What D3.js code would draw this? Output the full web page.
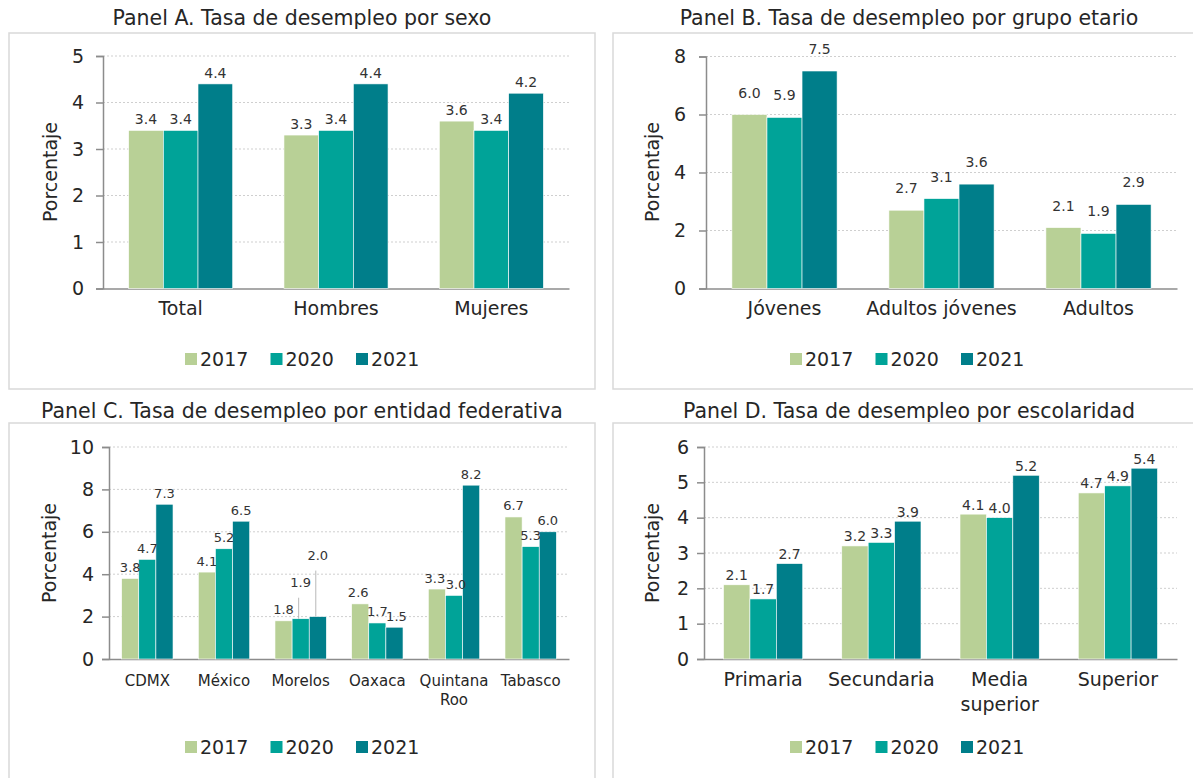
<!DOCTYPE html>
<html>
<head>
<meta charset="utf-8">
<script src="https://cdn.jsdelivr.net/npm/d3@7"></script>
<style>
  body { margin: 0; background: #fff; }
  svg { display: block; font-family: "DejaVu Sans", sans-serif; }
</style>
</head>
<body>
<svg id="chart" width="1193" height="778"></svg>
<script>
// series
var years = ["2017", "2020", "2021"];
var yearColors = ["#b8d096", "#00a398", "#007e8a"];

// Panel A
var sexoCats = ["Total", "Hombres", "Mujeres"];
var sexo2017 = [3.4, 3.3, 3.6];
var sexo2020 = [3.4, 3.4, 3.4];
var sexo2021 = [4.4, 4.4, 4.2];
var sexoTicks = [0, 1, 2, 3, 4, 5];

// Panel B
var edadCats = ["Jóvenes", "Adultos jóvenes", "Adultos"];
var edad2017 = [6.0, 2.7, 2.1];
var edad2020 = [5.9, 3.1, 1.9];
var edad2021 = [7.5, 3.6, 2.9];
var edadTicks = [0, 2, 4, 6, 8];

// Panel C
var entidadCats = ["CDMX", "México", "Morelos", "Oaxaca", "Quintana Roo", "Tabasco"];
var entidad2017 = [3.8, 4.1, 1.8, 2.6, 3.3, 6.7];
var entidad2020 = [4.7, 5.2, 1.9, 1.7, 3.0, 5.3];
var entidad2021 = [7.3, 6.5, 2.0, 1.5, 8.2, 6.0];
var entidadTicks = [0, 2, 4, 6, 8, 10];

// Panel D
var escolarCats = ["Primaria", "Secundaria", "Media superior", "Superior"];
var escolar2017 = [2.1, 3.2, 4.1, 4.7];
var escolar2020 = [1.7, 3.3, 4.0, 4.9];
var escolar2021 = [2.7, 3.9, 5.2, 5.4];
var escolarTicks = [0, 1, 2, 3, 4, 5, 6];

var svg = d3.select("#chart");
var fmt = d3.format(".1f");

function panel(o) {
  var g = svg.append("g");

  g.append("rect")
    .attr("x", o.box[0]).attr("y", o.box[1])
    .attr("width", o.box[2]).attr("height", o.box[3])
    .attr("fill", "#fff").attr("stroke", "#d9d9d9").attr("stroke-width", 1.5);

  g.append("text")
    .attr("x", o.titleX).attr("y", o.titleY)
    .attr("text-anchor", "middle").attr("font-size", 20.5).attr("fill", "#262626")
    .text(o.title);

  var x = d3.scaleBand().domain(o.cats).range([o.x0, o.x1])
    .paddingInner(0.33).paddingOuter(0.165);
  var xs = d3.scaleBand().domain(years).range([0, x.bandwidth()]);
  var y = d3.scaleLinear().domain([0, d3.max(o.ticks)]).range([o.y0, o.y1]);

  // grid
  g.selectAll(".grid").data(o.ticks.slice(1)).enter().append("line")
    .attr("x1", o.x0).attr("x2", o.x1)
    .attr("y1", function(d) { return y(d); }).attr("y2", function(d) { return y(d); })
    .attr("stroke", "#cfcfcf").attr("stroke-dasharray", "2,2");

  // y axis
  var ya = g.append("g").attr("transform", "translate(" + o.x0 + ",0)")
    .call(d3.axisLeft(y).tickValues(o.ticks).tickFormat(d3.format("d"))
      .tickSize(7).tickPadding(o.tickPad));
  ya.select(".domain").attr("stroke", "#8c8c8c").attr("stroke-width", 1.5);
  ya.selectAll(".tick line").attr("stroke", "#8c8c8c").attr("stroke-width", 1.5);
  ya.selectAll(".tick text").attr("font-size", 19).attr("fill", "#262626")
    .attr("font-family", "DejaVu Sans");

  // x axis
  var xa = g.append("g").attr("transform", "translate(0," + o.y0 + ")")
    .call(d3.axisBottom(x).tickSize(0).tickPadding(0));
  xa.select(".domain").attr("stroke", "#8c8c8c").attr("stroke-width", 1.5);
  xa.selectAll(".tick text").remove();

  // category labels
  o.cats.forEach(function(c) {
    var lines = o.wrap && o.wrap.indexOf(c) >= 0 ? c.split(" ") : [c];
    var t = g.append("text")
      .attr("text-anchor", "middle").attr("font-size", o.catSize).attr("fill", "#262626")
      .attr("y", o.catY);
    lines.forEach(function(l, i) {
      t.append("tspan").attr("x", x(c) + x.bandwidth() / 2)
        .attr("dy", i === 0 ? 0 : o.catLine).text(l);
    });
  });

  // bars
  var rows = [];
  o.cats.forEach(function(c, i) {
    o.series.forEach(function(s, j) {
      rows.push({ cat: c, year: years[j], value: s[i], j: j });
    });
  });

  g.selectAll(".bar").data(rows).enter().append("rect")
    .attr("x", function(d) { return x(d.cat) + xs(d.year); })
    .attr("width", xs.bandwidth())
    .attr("y", function(d) { return y(d.value); })
    .attr("height", function(d) { return o.y0 - y(d.value); })
    .attr("fill", function(d) { return yearColors[d.j]; })
    .attr("stroke", "#fff").attr("stroke-width", 0.6);

  // labels
  function lift(d) { return (o.lift && o.lift[d.cat + d.year]) || 0; }
  function shift(d) { return (o.shift && o.shift[d.cat + d.year]) || 0; }

  g.selectAll(".lbl").data(rows).enter().append("text")
    .attr("x", function(d) { return x(d.cat) + xs(d.year) + xs.bandwidth() / 2 + shift(d); })
    .attr("y", function(d) { return y(d.value) - o.labelGap - lift(d); })
    .attr("text-anchor", "middle").attr("font-size", o.labelSize).attr("fill", "#333")
    .text(function(d) { return fmt(d.value); });

  // leader lines for moved labels
  rows.filter(function(d) { return lift(d) > 0; }).forEach(function(d) {
    var cx = x(d.cat) + xs(d.year) + xs.bandwidth() / 2 - 2;
    g.append("line")
      .attr("x1", cx).attr("x2", cx)
      .attr("y1", y(d.value)).attr("y2", y(d.value) - lift(d) + 4)
      .attr("stroke", "#a6a6a6").attr("stroke-width", 0.8);
  });

  // y title
  g.append("text")
    .attr("transform", "translate(" + o.ytX + "," + o.ytY + ") rotate(-90)")
    .attr("text-anchor", "middle").attr("dy", "0.35em")
    .attr("font-size", 19).attr("fill", "#262626")
    .text("Porcentaje");

  // legend
  years.forEach(function(yr, j) {
    var lx = o.legX + j * 85.5;
    g.append("rect").attr("x", lx).attr("y", o.legY - 6)
      .attr("width", 12).attr("height", 12).attr("fill", yearColors[j]);
    g.append("text").attr("x", lx + 15).attr("y", o.legY).attr("dy", "0.36em")
      .attr("font-size", 19).attr("fill", "#262626").text(yr);
  });
}

panel({
  title: "Panel A. Tasa de desempleo por sexo", titleX: 302, titleY: 25,
  box: [9, 33, 586, 356],
  cats: sexoCats, series: [sexo2017, sexo2020, sexo2021], ticks: sexoTicks,
  x0: 103, x1: 569, y0: 288.5, y1: 56, tickPad: 12,
  catY: 315, catSize: 19, labelGap: 6, labelSize: 14,
  ytX: 50, ytY: 172, legX: 185, legY: 359
});

panel({
  title: "Panel B. Tasa de desempleo por grupo etario", titleX: 909, titleY: 25,
  box: [613, 33, 590, 356],
  cats: edadCats, series: [edad2017, edad2020, edad2021], ticks: edadTicks,
  x0: 706, x1: 1177, y0: 288.5, y1: 56.5, tickPad: 13,
  catY: 315, catSize: 19, labelGap: 17, labelSize: 14,
  ytX: 652, ytY: 172, legX: 790, legY: 359
});

panel({
  title: "Panel C. Tasa de desempleo por entidad federativa", titleX: 302, titleY: 418,
  box: [9, 423, 586, 380],
  cats: entidadCats, series: [entidad2017, entidad2020, entidad2021], ticks: entidadTicks,
  x0: 109, x1: 569, y0: 659, y1: 447, tickPad: 8,
  catY: 686, catSize: 15, catLine: 19, labelGap: 6.5, labelSize: 13,
  wrap: ["Quintana Roo"],
  lift: { "Morelos2020": 25, "Morelos2021": 50 },
  shift: { "Oaxaca2017": -2, "Oaxaca2021": 2, "Quintana Roo2017": -2, "Quintana Roo2020": 2 },
  ytX: 49, ytY: 553, legX: 185, legY: 747
});

panel({
  title: "Panel D. Tasa de desempleo por escolaridad", titleX: 909, titleY: 418,
  box: [613, 423, 590, 380],
  cats: escolarCats, series: [escolar2017, escolar2020, escolar2021], ticks: escolarTicks,
  x0: 704, x1: 1177, y0: 659, y1: 447, tickPad: 8,
  catY: 686, catSize: 19, catLine: 25, labelGap: 4.5, labelSize: 14,
  wrap: ["Media superior"],
  ytX: 652, ytY: 553, legX: 790, legY: 747
});
</script>
</body>
</html>
